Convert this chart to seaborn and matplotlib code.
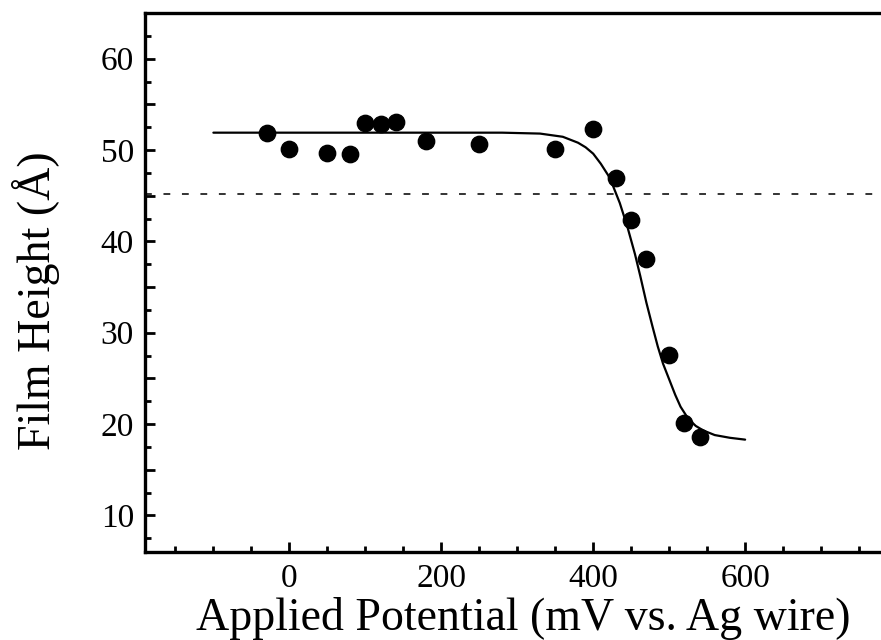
import numpy as np
import matplotlib
matplotlib.use("Agg")
import matplotlib.pyplot as plt
import seaborn as sns
from matplotlib.ticker import MultipleLocator, FuncFormatter

# measured film heights (points)
potential_mv = [-30, 0, 50, 80, 100, 120, 140, 180, 250, 350, 400, 430, 450, 470, 500, 520, 540]
height_a = [51.9, 50.1, 49.7, 49.6, 53.0, 52.8, 53.1, 51.0, 50.7, 50.1, 52.3, 46.9, 42.3, 38.1, 27.6, 20.1, 18.6]

# fitted curve
fit_x = [-100, 0, 100, 200, 280, 330, 360, 380, 390, 400, 410, 420, 425, 435, 440, 445,
         455, 462, 470, 478, 485, 492, 500, 508, 515, 525, 535, 545, 560, 580, 600]
fit_y = [51.9, 51.9, 51.9, 51.9, 51.9, 51.8, 51.45, 50.8, 50.3, 49.6, 48.5, 47.2, 46.3, 44.2, 42.9, 41.6,
         38.6, 36.2, 33.3, 30.7, 28.5, 26.6, 24.9, 23.2, 21.9, 20.6, 19.8, 19.3, 18.8, 18.5, 18.3]

# threshold line
threshold = 45.2

sns.set_style("ticks", {'axes.edgecolor': 'black', 'text.color': 'black',
                        'xtick.color': 'black', 'ytick.color': 'black', 'axes.labelcolor': 'black'})
plt.rcParams['font.family'] = ['Liberation Serif', 'DejaVu Serif']

fig = plt.figure(figsize=(8.81, 6.4), dpi=100)
ax = fig.add_axes([0.1646, 0.1375, 0.845, 0.8422])

sns.lineplot(x=fit_x, y=fit_y, ax=ax, color='black', linewidth=1.6)
sns.scatterplot(x=potential_mv, y=height_a, ax=ax, color='black', s=140, edgecolor='black', zorder=3)
ax.axhline(threshold, color='#333333', linestyle=(0, (3.5, 6)), linewidth=1.4)

ax.set_xlim(-190, 790)
ax.set_ylim(6, 65)

ax.xaxis.set_major_locator(MultipleLocator(200))
ax.xaxis.set_minor_locator(MultipleLocator(50))
ax.yaxis.set_major_locator(MultipleLocator(5))
ax.yaxis.set_minor_locator(MultipleLocator(2.5))
ax.yaxis.set_major_formatter(FuncFormatter(lambda v, p: f"{int(v)}" if v % 10 == 0 else ""))

ax.tick_params(which='major', direction='in', length=7, width=2, labelsize=24, pad=8)
ax.tick_params(which='minor', direction='in', length=4, width=2)
for s in ax.spines.values():
    s.set_linewidth(2.4)
ax.spines['right'].set_visible(False)

ax.set_xlabel('Applied Potential (mV vs. Ag wire)', fontsize=33)
ax.set_ylabel('Film Height (Å)', fontsize=33)
ax.xaxis.set_label_coords(0.508, -0.083)
ax.yaxis.set_label_coords(-0.114, 0.467)

fig.savefig('out.png', dpi=100)
